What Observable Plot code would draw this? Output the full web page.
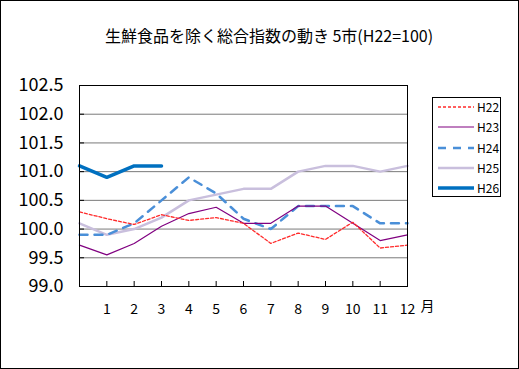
<!DOCTYPE html>
<html><head><meta charset="utf-8">
<script src="https://cdn.jsdelivr.net/npm/d3@7"></script>
<script src="https://cdn.jsdelivr.net/npm/@observablehq/plot@0.6"></script>
<style>
body{margin:0;background:#fff;}
#wrap{position:relative;width:519px;height:369px;overflow:hidden;background:#fff;font-family:"Noto Sans CJK JP",sans-serif;color:#000;}
#chart{position:absolute;left:0;top:0;}
#border{position:absolute;left:0;top:0;width:519px;height:369px;box-sizing:border-box;border:1px solid #000;pointer-events:none;}
#title{position:absolute;top:24px;left:19px;width:500px;text-align:center;font-size:16px;line-height:22px;white-space:nowrap;}
#legend{position:absolute;left:432px;top:97px;width:69px;height:100px;box-sizing:border-box;border:1px solid #000;background:#fff;}
.row{position:absolute;left:5px;height:16px;display:flex;align-items:center;font-size:12px;line-height:16px;}
.row svg{margin-right:3px;}
</style></head>
<body>
<div id="wrap">
  <div id="chart"></div>
  <div id="title">生鮮食品を除く総合指数の動き 5市(H22=100)</div>
  <div id="legend"></div>
  <div id="border"></div>
</div>
<script>
// ---- data ----
const months = [0, 1, 2, 3, 4, 5, 6, 7, 8, 9, 10, 11, 12];
const tickMonths = [1, 2, 3, 4, 5, 6, 7, 8, 9, 10, 11, 12];
const monthLabels = ["1", "2", "3", "4", "5", "6", "7", "8", "9", "10", "11", "12"];
const yTicks = [99.0, 99.5, 100.0, 100.5, 101.0, 101.5, 102.0, 102.5];
const seriesNames = ["H22", "H23", "H24", "H25", "H26"];
const h22 = [100.3, 100.18, 100.08, 100.25, 100.15, 100.2, 100.1, 99.75, 99.93, 99.82, 100.12, 99.67, 99.72];
const h23 = [99.72, 99.55, 99.75, 100.05, 100.27, 100.38, 100.1, 100.1, 100.4, 100.4, 100.1, 99.8, 99.9];
const h24 = [99.9, 99.9, 100.1, 100.5, 100.9, 100.62, 100.18, 100.0, 100.4, 100.4, 100.4, 100.1, 100.1];
const h25 = [100.1, 99.9, 100.0, 100.2, 100.5, 100.6, 100.7, 100.7, 101.0, 101.1, 101.1, 101.0, 101.1];
const h26 = [101.1, 100.9, 101.1, 101.1];
const unitLabel = "月";

// ---- styles ----
const styles = {
  H22: {stroke: "#FF2a2a", strokeWidth: 1.3, strokeDasharray: "3,2"},
  H23: {stroke: "#800080", strokeWidth: 1.2, strokeDasharray: null},
  H24: {stroke: "#4A8FD8", strokeWidth: 2.5, strokeDasharray: "8,7"},
  H25: {stroke: "#C9BFDD", strokeWidth: 2.5, strokeDasharray: null},
  H26: {stroke: "#0070C0", strokeWidth: 3.5, strokeDasharray: null}
};

const seriesData = {H22: h22, H23: h23, H24: h24, H25: h25, H26: h26};
const rows = name => seriesData[name].map((v, i) => ({month: months[i], value: v, series: name}));

const W = 519, H = 369, mL = 79, mR = 112, mT = 85, mB = 83;
const plotW = W - mL - mR, plotH = H - mT - mB;

const lineMark = name => Plot.line(rows(name), {
  x: "month", y: "value",
  stroke: styles[name].stroke,
  strokeWidth: styles[name].strokeWidth,
  strokeDasharray: styles[name].strokeDasharray,
  strokeLinejoin: "miter"
});

const chart = Plot.plot({
  width: W, height: H,
  marginLeft: mL, marginRight: mR, marginTop: mT, marginBottom: mB,
  style: {fontFamily: '"Noto Sans CJK JP", sans-serif', background: "transparent", color: "#000"},
  x: {domain: [0, 12]},
  y: {domain: [99, 102.5]},
  marks: [
    Plot.ruleY(yTicks.filter(v => v > 99 && v < 102.5), {y: d => d, stroke: "#7a7a7a", strokeWidth: 1}),
    Plot.tickY(yTicks, {y: d => d, insetRight: plotW - 5, stroke: "#000"}),
    Plot.tickX(tickMonths, {x: d => d, insetTop: plotH - 5, stroke: "#000"}),
    Plot.axisY({ticks: yTicks, tickSize: 0, tickPadding: 16, tickFormat: d => d.toFixed(1), fontSize: 18, label: null}),
    Plot.axisX({ticks: tickMonths, tickSize: 0, tickPadding: 18, tickFormat: d => monthLabels[tickMonths.indexOf(d)], fontSize: 14, label: null}),
    lineMark("H25"),
    lineMark("H24"),
    lineMark("H23"),
    lineMark("H22"),
    lineMark("H26"),
    Plot.frame({stroke: "#000"}),
    Plot.text([unitLabel], {frameAnchor: "bottom-right", dx: 27, dy: 24, fontSize: 14})
  ]
});
document.getElementById("chart").appendChild(chart);

// ---- legend ----
const legend = document.getElementById("legend");
seriesNames.forEach((name, i) => {
  const row = document.createElement("div");
  row.className = "row";
  row.style.top = (10 + i * 20.3 - 8 - 1) + "px";
  const s = styles[name];
  row.innerHTML = `<svg width="36" height="8"><line x1="0" y1="4" x2="36" y2="4" stroke="${s.stroke}" stroke-width="${s.strokeWidth}" ${s.strokeDasharray ? `stroke-dasharray="${s.strokeDasharray}"` : ""}/></svg><span>${name}</span>`;
  legend.appendChild(row);
});
</script>
</body></html>
